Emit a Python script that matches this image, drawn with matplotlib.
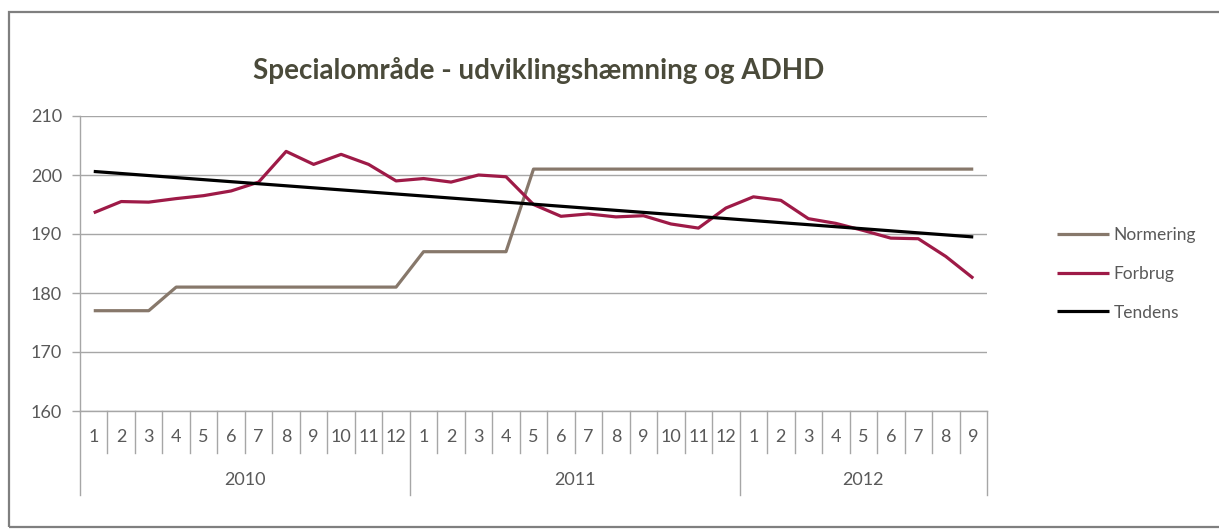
import matplotlib
matplotlib.use("Agg")
import matplotlib.pyplot as plt
import matplotlib.transforms as mtransforms
from matplotlib.patches import Rectangle

plt.rcParams['font.family'] = ['Lato', 'DejaVu Sans']

# ---- data ----
years = ["2010", "2011", "2012"]
months_per_year = [12, 12, 9]
month_labels = [str(m) for m in range(1, 13)] + [str(m) for m in range(1, 13)] + [str(m) for m in range(1, 10)]

normering = [177, 177, 177, 181, 181, 181, 181, 181, 181, 181, 181, 181,
             187, 187, 187, 187, 201, 201, 201, 201, 201, 201, 201, 201,
             201, 201, 201, 201, 201, 201, 201, 201, 201]
forbrug = [193.6, 195.5, 195.4, 196.0, 196.5, 197.3, 198.8, 204.0, 201.8, 203.5, 201.8, 199.0,
           199.4, 198.8, 200.0, 199.7, 195.0, 193.0, 193.4, 192.9, 193.1, 191.7, 191.0, 194.4,
           196.3, 195.7, 192.6, 191.8, 190.6, 189.3, 189.2, 186.2, 182.5]
tendens_start = 200.6
tendens_end = 189.5

y_ticks = [160, 170, 180, 190, 200, 210]
series_names = ["Normering", "Forbrug", "Tendens"]
title = "Specialområde - udviklingshæmning og ADHD"

# ---- styling ----
c_norm = '#87786B'
c_forb = '#9E1A47'
c_tend = '#000000'
grid_c = '#A6A6A6'
txt_c = '#595959'

W, H = 1219, 529
fig = plt.figure(figsize=(W / 100, H / 100), dpi=100)
fig.patch.set_facecolor('white')

left, right, top, bottom = 80, 987, 116, 411
ax = fig.add_axes([left / W, 1 - bottom / H, (right - left) / W, (bottom - top) / H])

n = len(forbrug)
x = list(range(n))
lw = 2.3
ax.plot(x, normering, color=c_norm, lw=lw, label=series_names[0], solid_capstyle='butt', zorder=3)
ax.plot(x, forbrug, color=c_forb, lw=lw, label=series_names[1], solid_capstyle='butt', zorder=4)
ax.plot([x[0], x[-1]], [tendens_start, tendens_end], color=c_tend, lw=lw,
        label=series_names[2], solid_capstyle='butt', zorder=5)

ax.set_xlim(-0.5, n - 0.5)
ax.set_ylim(y_ticks[0], y_ticks[-1])
ax.set_yticks(y_ticks)
ax.set_xticks([])
ax.yaxis.grid(True, color=grid_c, lw=1.0)
ax.set_axisbelow(True)
for s in ['top', 'right']:
    ax.spines[s].set_visible(False)
for s in ['left', 'bottom']:
    ax.spines[s].set_color(grid_c)
    ax.spines[s].set_linewidth(1.0)
ax.tick_params(axis='y', length=6, color=grid_c, width=1.0, labelsize=13,
               labelcolor=txt_c, pad=7)

# ---- multi-level category axis ----
axh = bottom - top
trans = mtransforms.blended_transform_factory(ax.transData, ax.transAxes)
month_sep = -42 / axh
year_sep = -84 / axh
year_starts = [0]
for m in months_per_year:
    year_starts.append(year_starts[-1] + m)
for k in range(n + 1):
    xb = k - 0.5
    y_end = year_sep if k in year_starts else month_sep
    ax.plot([xb, xb], [0, y_end], transform=trans, color=grid_c, lw=1.0, clip_on=False)
for i, lab in enumerate(month_labels):
    ax.text(i, -26 / axh, lab, transform=trans, ha='center', va='center',
            fontsize=13, color=txt_c)
for j, yr in enumerate(years):
    cx = (year_starts[j] + year_starts[j + 1] - 1) / 2
    ax.text(cx, -69 / axh, yr, transform=trans, ha='center', va='center',
            fontsize=13, color=txt_c)

# ---- title ----
fig.text(539 / W, 1 - 71 / H, title, ha='center', va='center', fontsize=20,
         fontweight='bold', color='#4A4A3A')

# ---- legend ----
leg = fig.legend(loc='center left', bbox_to_anchor=(1057 / W, 1 - 274 / H),
                 frameon=False, fontsize=12.5, handlelength=3.0, handletextpad=0.25,
                 labelspacing=1.3, borderpad=0, borderaxespad=0)
for t in leg.get_texts():
    t.set_color(txt_c)

# ---- outer frame ----
fig.patches.append(Rectangle((9 / W, 1 - 527 / H), (W + 20) / W, (527 - 12) / H,
                             transform=fig.transFigure, fill=False,
                             edgecolor='#7F7F7F', lw=1.6))

fig.savefig("out.png", dpi=100, facecolor='white')
